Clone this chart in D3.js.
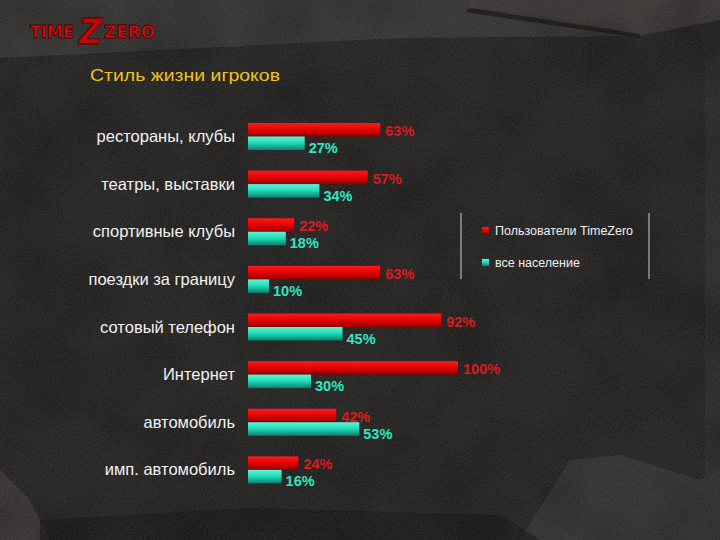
<!DOCTYPE html>
<html><head><meta charset="utf-8">
<script src="https://cdn.jsdelivr.net/npm/d3@7"></script>
<style>body{margin:0;background:#262524;}svg{display:block;}</style>
</head><body>
<script>
const categories = ["рестораны, клубы","театры, выставки","спортивные клубы","поездки за границу","сотовый телефон","Интернет","автомобиль","имп. автомобиль"];
const tzUsers = [63,57,22,63,92,100,42,24];
const population = [27,34,18,10,45,30,53,16];
const seriesNames = ["Пользователи TimeZero","все население"];
const titleText = "Стиль жизни игроков";

const W=720,H=540;
const svg=d3.select("body").append("svg").attr("width",W).attr("height",H);
const defs=svg.append("defs");
const f=defs.append("filter").attr("id","noise").attr("x",0).attr("y",0).attr("width","100%").attr("height","100%");
f.append("feTurbulence").attr("type","fractalNoise").attr("baseFrequency",0.9).attr("numOctaves",2).attr("seed",3);
f.append("feColorMatrix").attr("type","matrix").attr("values","0 0 0 0 0.6  0 0 0 0 0.6  0 0 0 0 0.6  1.2 0 0 0 -0.45");
const f2=defs.append("filter").attr("id","blotch").attr("x",0).attr("y",0).attr("width","100%").attr("height","100%");
f2.append("feTurbulence").attr("type","fractalNoise").attr("baseFrequency",0.012).attr("numOctaves",3).attr("seed",7);
f2.append("feColorMatrix").attr("type","matrix").attr("values","0 0 0 0 0  0 0 0 0 0  0 0 0 0 0  1.4 0 0 0 -0.55");

const gr=defs.append("linearGradient").attr("id","gRed").attr("x1",0).attr("y1",0).attr("x2",0).attr("y2",1);
gr.append("stop").attr("offset","0%").attr("stop-color","#ff1a1a");
gr.append("stop").attr("offset","55%").attr("stop-color","#e00000");
gr.append("stop").attr("offset","100%").attr("stop-color","#8a0000");
const gt=defs.append("linearGradient").attr("id","gTeal").attr("x1",0).attr("y1",0).attr("x2",0).attr("y2",1);
gt.append("stop").attr("offset","0%").attr("stop-color","#5ff5da");
gt.append("stop").attr("offset","50%").attr("stop-color","#1fd8b4");
gt.append("stop").attr("offset","100%").attr("stop-color","#0b7f6c");

// background
svg.append("rect").attr("width",W).attr("height",H).attr("fill","#282726");
svg.append("path").attr("d","M0,0H720V20L640,36L400,38L0,58Z").attr("fill","#393736");
svg.append("path").attr("d","M470,8L520,12L640,34L720,20V0H470Z").attr("fill","#403d3b").attr("opacity",0.7);
svg.append("path").attr("d","M470,8L640,34L640,38L465,12Z").attr("fill","#1a1919").attr("opacity",0.8);
svg.append("path").attr("d","M570,460L620,455L700,480L720,470V540H520Z").attr("fill","#363432");
svg.append("path").attr("d","M0,470L30,500L50,540H0Z").attr("fill","#3a3735");
svg.append("path").attr("d","M40,520L250,508L500,515L540,540H40Z").attr("fill","#1c1b1a").attr("opacity",0.7);
svg.append("path").attr("d","M705,60L720,55V500L705,520Z").attr("fill","#363432").attr("opacity",0.6);
svg.append("rect").attr("width",W).attr("height",H).attr("filter","url(#blotch)").attr("opacity",0.35);
svg.append("rect").attr("width",W).attr("height",H).attr("filter","url(#noise)").attr("opacity",0.18);

// logo
const logo=svg.append("g").attr("font-family","DejaVu Sans").attr("font-weight","bold").attr("fill","#d01010").attr("stroke","#4a0000").attr("stroke-width",0.8);
logo.append("text").attr("x",30).attr("y",38).attr("font-size",17).attr("textLength",44).attr("lengthAdjust","spacingAndGlyphs").text("TIME");
logo.append("text").attr("x",79).attr("y",44).attr("font-size",36).attr("font-style","italic").attr("textLength",23).attr("lengthAdjust","spacingAndGlyphs").attr("fill","#c00808").text("Z");
logo.append("text").attr("x",104).attr("y",38).attr("font-size",17).attr("textLength",51).attr("lengthAdjust","spacingAndGlyphs").text("ZERO");

// title
svg.append("text").attr("x",90).attr("y",81).attr("font-family","Liberation Sans, Arial").attr("font-size",16).attr("fill","#f2c21c").attr("textLength",190).attr("lengthAdjust","spacingAndGlyphs").text(titleText);

// scales
const x=d3.scaleLinear().domain([0,100]).range([248,458]);
const y=d3.scaleBand().domain(categories).range([113,494]).paddingInner(0).paddingOuter(0);
const barH=13.5;
const g=svg.append("g");
categories.forEach((c,i)=>{
  const top=y(c)+10;
  g.append("rect").attr("x",x(0)).attr("y",top).attr("width",x(tzUsers[i])-x(0)).attr("height",barH).attr("fill","url(#gRed)");
  g.append("rect").attr("x",x(0)).attr("y",top+barH).attr("width",x(population[i])-x(0)).attr("height",barH).attr("fill","url(#gTeal)");
  g.append("text").attr("x",x(tzUsers[i])+5).attr("y",top+13).attr("font-family","Liberation Sans, Arial").attr("font-weight","bold").attr("font-size",14.5).attr("fill","#dc1a1a").text(tzUsers[i]+"%");
  g.append("text").attr("x",x(population[i])+4).attr("y",top+30).attr("font-family","Liberation Sans, Arial").attr("font-weight","bold").attr("font-size",14.5).attr("fill","#2fe6c0").text(population[i]+"%");
  g.append("text").attr("x",235).attr("y",top+19).attr("text-anchor","end").attr("font-family","Liberation Sans, Arial").attr("font-size",16.5).attr("fill","#f2f2f2").text(c);
});

// legend
const lg=svg.append("g");
lg.append("line").attr("x1",461).attr("x2",461).attr("y1",213).attr("y2",279).attr("stroke","#cfcfcf").attr("stroke-width",1);
lg.append("line").attr("x1",649).attr("x2",649).attr("y1",213).attr("y2",279).attr("stroke","#cfcfcf").attr("stroke-width",1);
const lcol=["url(#gRed)","url(#gTeal)"];
seriesNames.forEach((s,i)=>{
  const ly=227+i*32;
  lg.append("rect").attr("x",482).attr("y",ly).attr("width",7).attr("height",7).attr("fill",lcol[i]);
  lg.append("text").attr("x",495).attr("y",ly+8).attr("font-family","Liberation Sans, Arial").attr("font-size",12.5).attr("fill","#f0f0f0").text(s);
});
</script>
</body></html>
